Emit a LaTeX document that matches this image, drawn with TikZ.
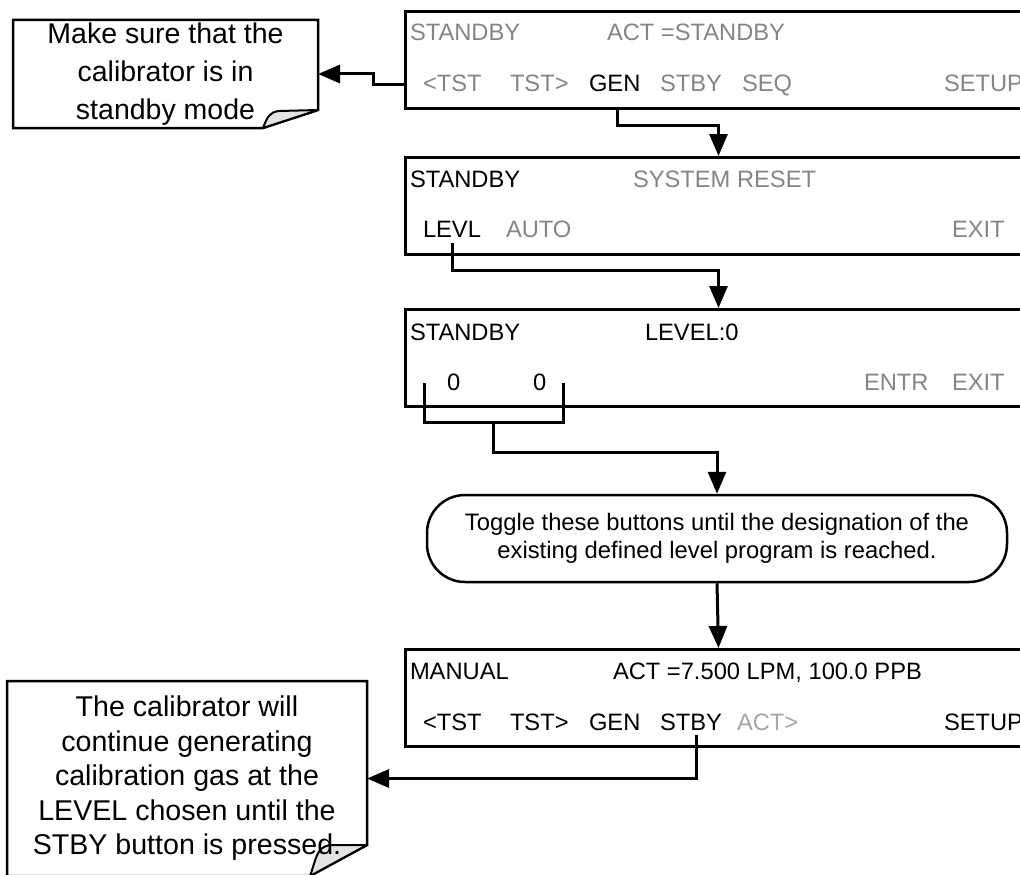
\documentclass[tikz,border=0pt]{standalone}
\usepackage{fontspec}
\setmainfont{Liberation Sans}
\usetikzlibrary{arrows.meta,calc,backgrounds}
\definecolor{lcdgray}{HTML}{858585}
\definecolor{lcdlight}{HTML}{A6A6A6}
\definecolor{flapfill}{HTML}{E3E3E3}
\begin{document}
\begin{tikzpicture}[x=1pt,y=-1pt,
  lcdbox/.style={draw,line width=3pt,rectangle,anchor=north west,minimum width=626pt,minimum height=97pt,inner sep=0pt},
  lcdtxt/.style={anchor=base west,inner sep=0pt,outer sep=0pt,font=\fontsize{23.7}{28}\selectfont},
  dim/.style={lcdtxt,text=lcdgray},
  faint/.style={lcdtxt,text=lcdlight},
  conn/.style={line width=3pt,-{Triangle[length=22pt,width=18pt]}},
  barline/.style={line width=3pt},
  notebox/.style={rectangle,draw=none,align=center,inner sep=0pt,outer sep=0pt},
  outline/.style={line width=2.5pt,line join=miter},
  flap/.style={line width=2pt,fill=flapfill,line join=round},
  pill/.style={draw,line width=2.5pt,rounded corners=38pt,minimum width=580pt,minimum height=87pt,align=center,inner sep=0pt,font=\fontsize{23.8}{28}\selectfont}
]
\useasboundingbox (0,0) rectangle (1020,875);

% ---------- LCD box 1 ----------
\node[lcdbox] (box1) at (404,10) {};
\node[dim] (b1a) at (410,41) {STANDBY};
\node[dim] (b1b) at (607,41) {ACT =STANDBY};
\node[dim] (b1c) at (423,92) {<TST};
\node[dim] (b1d) at (510,92) {TST>};
\node[lcdtxt] (gen) at (589,92) {GEN};
\node[dim] (b1e) at (660,92) {STBY};
\node[dim] (b1f) at (742,92) {SEQ};
\node[dim] (b1g) at (944,92) {SETUP};

% ---------- LCD box 2 ----------
\node[lcdbox] (box2) at (404,156) {};
\node[lcdtxt] (b2a) at (410,187) {STANDBY};
\node[dim] (b2b) at (633,187) {SYSTEM RESET};
\node[lcdtxt] (levl) at (423,237) {LEVL};
\node[dim] (b2c) at (506,237) {AUTO};
\node[dim] (b2d) at (952,237) {EXIT};

% ---------- LCD box 3 ----------
\node[lcdbox] (box3) at (404,308) {};
\node[lcdtxt] (b3a) at (410,340) {STANDBY};
\node[lcdtxt] (b3b) at (645,340) {LEVEL:0};
\node[lcdtxt] (z1) at (447,390) {0};
\node[lcdtxt] (z2) at (533,390) {0};
\node[dim] (b3c) at (864,390) {ENTR};
\node[dim] (b3d) at (952,390) {EXIT};

% ---------- toggle note ----------
\node[pill] (toggle) at (717,538.5) {Toggle these buttons until the designation of the\\existing defined level program is reached.};

% ---------- LCD box 4 ----------
\node[lcdbox] (box4) at (404,648) {};
\node[lcdtxt] (b4a) at (410,679) {MANUAL};
\node[lcdtxt] (b4b) at (613,679) {ACT =7.500 LPM, 100.0 PPB};
\node[lcdtxt] (b4c) at (423,730) {<TST};
\node[lcdtxt] (b4d) at (510,730) {TST>};
\node[lcdtxt] (b4e) at (589,730) {GEN};
\node[lcdtxt] (stbyd) at (660,730) {STBY};
\node[faint] (b4f) at (737,730) {ACT>};
\node[lcdtxt] (b4g) at (944,730) {SETUP};

% ---------- callouts (text on top, outline behind) ----------
\node[notebox,minimum width=305pt,minimum height=108pt,font=\fontsize{28.5}{38}\selectfont] (note1) at (165.5,74) {Make sure that the\\calibrator is in\\standby mode};
\node[notebox,minimum width=360pt,minimum height=195pt,font=\fontsize{28.6}{34.5}\selectfont] (note2) at (187,778.5) {The calibrator will\\continue generating\\calibration gas at the\\LEVEL chosen until the\\STBY button is pressed.};

\begin{pgfonlayer}{background}
\fill[white] (0,0) rectangle (1020,875);
\draw[outline] (note1.north west) -- (note1.north east) -- ([yshift=18pt]note1.south east) -- ([xshift=-55pt]note1.south east) -- (note1.south west) -- cycle;
\draw[flap] ([xshift=-55pt]note1.south east) .. controls +(4,-10) and +(-10,1) .. ([xshift=-39pt,yshift=17pt]note1.south east) -- ([yshift=18pt]note1.south east) -- cycle;
\draw[outline] (note2.north west) -- (note2.north east) -- ([yshift=31pt]note2.south east) -- ([xshift=-57pt]note2.south east) -- (note2.south west) -- cycle;
\draw[flap] ([xshift=-57pt]note2.south east) .. controls +(6,-16) and +(-14,2) .. ([xshift=-37pt,yshift=31pt]note2.south east) -- ([yshift=31pt]note2.south east) -- cycle;
\end{pgfonlayer}

% ---------- connectors ----------
\coordinate (g1) at ([xshift=3pt]gen.south);
\draw[conn] (g1 |- box1.south) -- ++(0,15) -| (box2.north);

\draw[conn] ([yshift=-24pt]box1.west) -- ++(-31,0) |- (note1.east);

\coordinate (j2) at (0,270);
\draw[conn] ([xshift=1pt,yshift=-6pt]levl.south) -- ([xshift=1pt]levl.south |- j2) -| (box3.north);

\coordinate (bl) at (424,383);
\coordinate (br) at (563,383);
\coordinate (j3) at (0,422);
\draw[barline] (bl) -- (bl |- j3) -- (br |- j3) -- (br);
\coordinate (bj) at (493,422);
\coordinate (j4) at (0,452);
\draw[conn] (bj) -- (bj |- j4) -| (toggle.north);

\draw[conn] (toggle.south) -- (box4.north);

\coordinate (s1) at ([xshift=6pt,yshift=-5pt]stbyd.south);
\draw[conn] (s1) |- (note2.east);
\end{tikzpicture}
\end{document}
